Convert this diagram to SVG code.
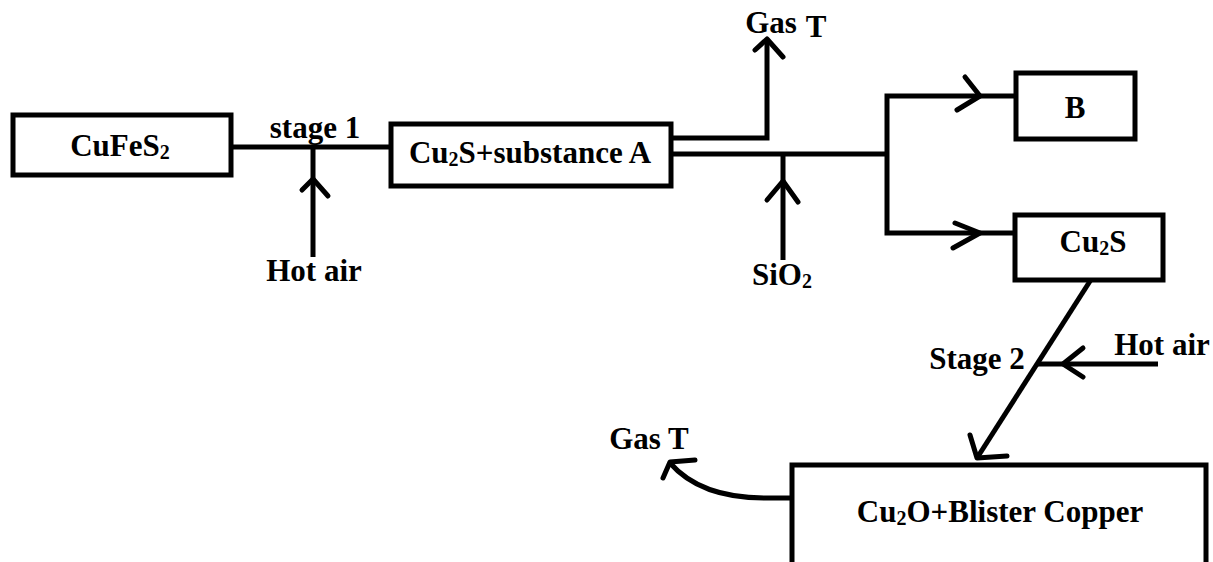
<svg xmlns="http://www.w3.org/2000/svg" width="1213" height="562" viewBox="0 0 1213 562">
<style>
.box{fill:#fff;stroke:#000;stroke-width:5}
.ln{fill:none;stroke:#000;stroke-width:5;stroke-linecap:butt;stroke-linejoin:miter}
.ah{fill:none;stroke:#000;stroke-width:5;stroke-linecap:round;stroke-linejoin:round}
text{font-family:"Liberation Serif","Times New Roman",serif;font-weight:bold;font-size:31px;fill:#000;text-anchor:middle}
.sub{font-size:20px}
</style>
<rect width="1213" height="562" fill="#fff"/>
<g id="connectors">
<path class="ln" d="M233,147 H389"/>
<path class="ln" d="M313,147 V257"/>
<path class="ah" d="M302,190 L313,179 L328,196"/>
<path class="ln" d="M673,138 H767 V40"/>
<path class="ah" d="M755,50 L767,39 L783,57"/>
<path class="ln" d="M673,154 H887"/>
<path class="ln" d="M783,154 V260"/>
<path class="ah" d="M767,200 L783,181 L798,202"/>
<path class="ln" d="M1014,96 H887 V233 H1013"/>
<path class="ah" d="M965,77 L980,96 L957,110"/>
<path class="ah" d="M955,223 L980,233 L953,248"/>
<path class="ln" d="M1092,278 L977,458"/>
<path class="ah" d="M970,435 L977,458 L1007,456"/>
<path class="ln" d="M1158,364 H1038"/>
<path class="ah" d="M1083,348 L1063,364 L1083,377"/>
<path class="ln" d="M790,498 H765 C722,498 690,486 670,463"/>
<path class="ah" d="M663,478 L670,462 L695,460"/>
</g>
<g id="node-cufes2">
<rect class="box" x="13" y="115" width="218" height="60"/>
<text x="120" y="156">CuFeS<tspan class="sub" dy="3">2</tspan></text>
</g>
<g id="label-stage1"><text x="315" y="138">stage 1</text></g>
<g id="label-hotair1"><text x="314" y="281">Hot air</text></g>
<g id="node-cu2s-a">
<rect class="box" x="391" y="124" width="280" height="62"/>
<text x="530" y="163">Cu<tspan class="sub" dy="3">2</tspan><tspan dy="-3">S+substance A</tspan></text>
</g>
<g id="label-gast1"><text x="771" y="33">Gas</text><text x="816" y="37">T</text></g>
<g id="label-sio2"><text x="782" y="285">SiO<tspan class="sub" dy="3">2</tspan></text></g>
<g id="node-b">
<rect class="box" x="1016" y="73" width="119" height="66"/>
<text x="1075" y="118">B</text>
</g>
<g id="node-cu2s">
<rect class="box" x="1015" y="215" width="148" height="65"/>
<text x="1093" y="252">Cu<tspan class="sub" dy="3">2</tspan><tspan dy="-3">S</tspan></text>
</g>
<g id="label-stage2"><text x="977" y="369">Stage 2</text></g>
<g id="label-hotair2"><text x="1162" y="355">Hot air</text></g>
<g id="label-gast2"><text x="649" y="449">Gas T</text></g>
<g id="node-cu2o">
<rect class="box" x="792" y="465" width="414" height="130"/>
<text x="1000" y="522">Cu<tspan class="sub" dy="3">2</tspan><tspan dy="-3">O+Blister Copper</tspan></text>
</g>
</svg>
